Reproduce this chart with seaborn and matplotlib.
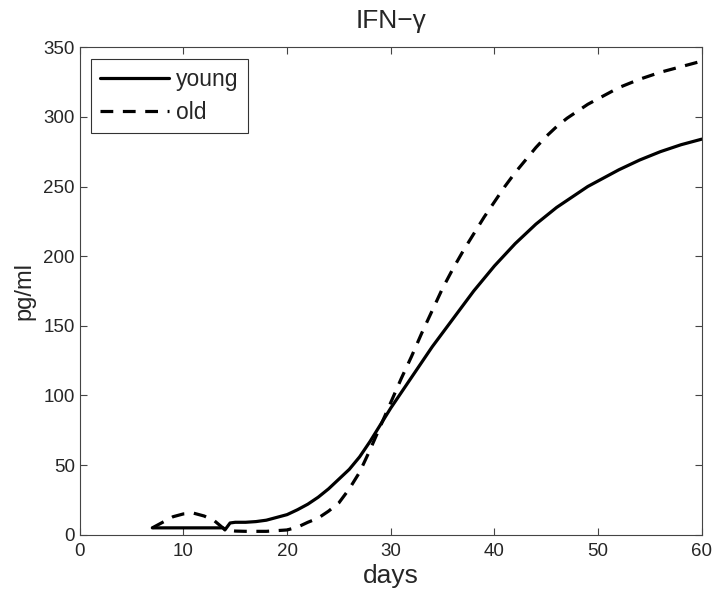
import matplotlib
matplotlib.use("Agg")
import matplotlib.pyplot as plt
import seaborn as sns
import pandas as pd

# -----------------------------
# Data
# -----------------------------
young_days = [7, 13.8, 14.0, 14.5, 15, 16, 17, 18, 19, 20, 21, 22, 23, 24, 25,
              26, 27, 28, 29, 30, 31, 32, 33, 34, 35, 36, 37, 38, 39, 40,
              41, 42, 43, 44, 45, 46, 47, 48, 49, 50, 51, 52, 54, 56, 58, 60]
young_vals = [5, 5, 3.5, 8.5, 9, 9, 9.5, 10.5, 12.5, 14.5, 18, 22, 27, 33, 40,
              47, 56, 67, 79, 91, 102, 113, 124, 135, 145, 155, 165, 175, 184, 193,
              201, 209, 216, 223, 229, 235, 240, 245, 250, 254, 258, 262, 269, 275, 280, 284]

old_days = [7, 8, 9, 10, 11, 12, 13, 13.8, 14.2, 15, 16, 17, 18, 19, 20, 21,
            22, 23, 24, 25, 26, 27, 28, 29, 30, 31, 32, 33, 34, 35, 36, 37,
            38, 39, 40, 41, 42, 43, 44, 45, 46, 47, 48, 49, 50, 52, 54, 56, 58, 60]
old_vals = [5, 9, 13, 15, 15.5, 13.5, 10, 5, 3.5, 2.7, 2.5, 2.5, 2.5, 3, 3.5, 5.5,
            9, 12, 17, 23, 33, 45, 61, 78, 95, 112, 128, 145, 161, 177, 191, 204,
            216, 228, 239, 250, 260, 269, 278, 286, 293, 299, 304, 309, 313, 321, 327, 332, 336, 340]

df = pd.concat([
    pd.DataFrame({"days": young_days, "pg/ml": young_vals, "group": "young"}),
    pd.DataFrame({"days": old_days, "pg/ml": old_vals, "group": "old"}),
])

# -----------------------------
# Plot
# -----------------------------
sns.set_style("ticks")
plt.rcParams["font.family"] = ["Liberation Sans", "DejaVu Sans"]

fig = plt.figure(figsize=(7.25, 6.05), dpi=100)
ax = fig.add_axes([0.110, 0.116, 0.858, 0.806])

sns.lineplot(
    data=df, x="days", y="pg/ml", style="group",
    dashes={"young": "", "old": (4, 3)},
    color="black", linewidth=2.3, sort=False, estimator=None, ax=ax,
)

ax.set_xlim(0, 60)
ax.set_ylim(0, 350)
ax.set_xticks(range(0, 61, 10))
ax.set_yticks(range(0, 351, 50))
ax.tick_params(direction="in", top=True, right=True, labelsize=13.5,
               length=5, width=0.8, color="#444444")
ax.tick_params(axis="x", pad=6)
for s in ax.spines.values():
    s.set_linewidth(0.8)
    s.set_color("#444444")

ax.set_xlabel("days", fontsize=19, labelpad=3)
ax.set_ylabel("pg/ml", fontsize=17, labelpad=6)
ax.set_title("IFN\u2212\u03b3", fontsize=19, pad=14)

leg = ax.legend(loc="upper left", fontsize=16.5, handlelength=3.0,
                frameon=True, fancybox=False, borderaxespad=0.5,
                handletextpad=0.3, borderpad=0.4, labelspacing=0.45)
leg.get_frame().set_edgecolor("black")
leg.get_frame().set_linewidth(0.8)
leg.set_title(None)

fig.savefig("out.png", dpi=100)
